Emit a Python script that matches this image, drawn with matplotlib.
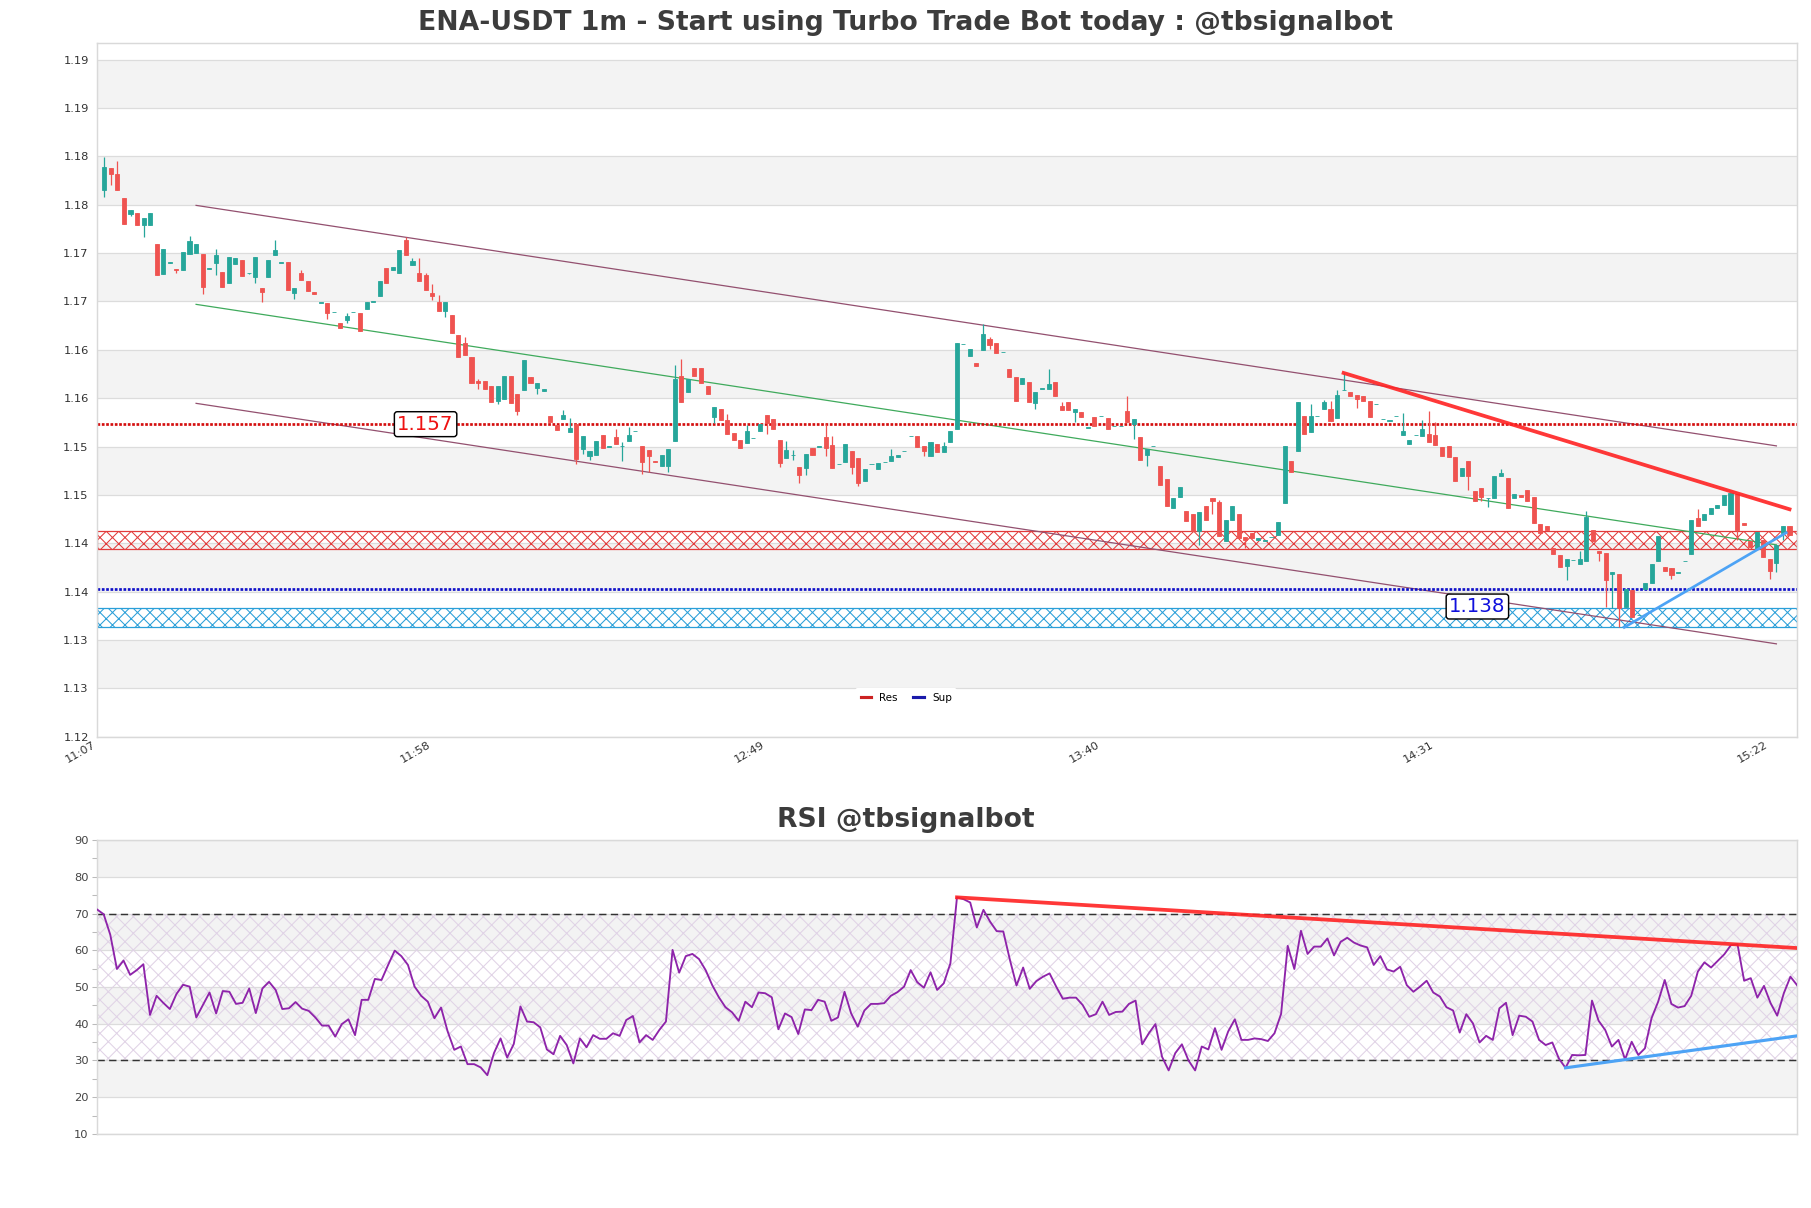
import numpy as np
import matplotlib
matplotlib.use("Agg")
import matplotlib.pyplot as plt
from matplotlib.lines import Line2D

plt.rcParams['hatch.linewidth'] = 0.5

# 1m candles (index 0 = first candle)
opens = [
    1.1840, 1.1865, 1.1858, 1.1830, 1.1812, 1.1813, 1.1799, 1.1799, 1.1777, 1.1743,
    1.1756, 1.1749, 1.1748, 1.1766, 1.1767, 1.1766, 1.1749, 1.1756, 1.1745, 1.1733,
    1.1755, 1.1759, 1.1744, 1.1740, 1.1727, 1.1739, 1.1765, 1.1756, 1.1757, 1.1721,
    1.1744, 1.1735, 1.1722, 1.1710, 1.1710, 1.1699, 1.1686, 1.1690, 1.1699, 1.1698,
    1.1703, 1.1711, 1.1718, 1.1750, 1.1747, 1.1744, 1.1782, 1.1753, 1.1744, 1.1742,
    1.1721, 1.1711, 1.1700, 1.1696, 1.1673, 1.1664, 1.1647, 1.1620, 1.1620, 1.1614,
    1.1597, 1.1599, 1.1625, 1.1605, 1.1609, 1.1624, 1.1612, 1.1608, 1.1579, 1.1569,
    1.1576, 1.1561, 1.1570, 1.1541, 1.1533, 1.1534, 1.1558, 1.1544, 1.1555, 1.1545,
    1.1551, 1.1562, 1.1545, 1.1540, 1.1528, 1.1522, 1.1522, 1.1551, 1.1626, 1.1607,
    1.1635, 1.1635, 1.1614, 1.1578, 1.1587, 1.1575, 1.1560, 1.1552, 1.1548, 1.1554,
    1.1562, 1.1581, 1.1576, 1.1552, 1.1531, 1.1534, 1.1521, 1.1519, 1.1543, 1.1544,
    1.1555, 1.1546, 1.1524, 1.1526, 1.1539, 1.1531, 1.1504, 1.1524, 1.1518, 1.1526,
    1.1528, 1.1532, 1.1539, 1.1556, 1.1556, 1.1545, 1.1533, 1.1547, 1.1538, 1.1550,
    1.1565, 1.1662, 1.1649, 1.1640, 1.1655, 1.1668, 1.1663, 1.1653, 1.1634, 1.1624,
    1.1616, 1.1619, 1.1594, 1.1611, 1.1611, 1.1619, 1.1591, 1.1595, 1.1584, 1.1584,
    1.1566, 1.1578, 1.1579, 1.1577, 1.1568, 1.1568, 1.1585, 1.1570, 1.1555, 1.1535,
    1.1545, 1.1522, 1.1507, 1.1473, 1.1486, 1.1470, 1.1467, 1.1447, 1.1476, 1.1485,
    1.1480, 1.1436, 1.1460, 1.1467, 1.1440, 1.1445, 1.1437, 1.1436, 1.1440, 1.1442,
    1.1479, 1.1528, 1.1539, 1.1579, 1.1561, 1.1579, 1.1587, 1.1588, 1.1577, 1.1609,
    1.1607, 1.1604, 1.1603, 1.1597, 1.1593, 1.1576, 1.1574, 1.1579, 1.1557, 1.1547,
    1.1557, 1.1556, 1.1559, 1.1557, 1.1544, 1.1545, 1.1532, 1.1510, 1.1528, 1.1493,
    1.1497, 1.1485, 1.1485, 1.1510, 1.1508, 1.1485, 1.1489, 1.1494, 1.1486, 1.1455,
    1.1453, 1.1427, 1.1419, 1.1407, 1.1413, 1.1409, 1.1412, 1.1448, 1.1424, 1.1422,
    1.1397, 1.1397, 1.1359, 1.1379, 1.1350, 1.1380, 1.1387, 1.1412, 1.1406, 1.1404,
    1.1399, 1.1412, 1.1421, 1.1462, 1.1460, 1.1467, 1.1473, 1.1477, 1.1467, 1.1490,
    1.1456, 1.1435, 1.1426, 1.1437, 1.1415, 1.1410, 1.1445, 1.1453,
]
highs = [
    1.1878, 1.1865, 1.1873, 1.1830, 1.1817, 1.1813, 1.1807, 1.1813, 1.1777, 1.1772,
    1.1757, 1.1749, 1.1768, 1.1787, 1.1777, 1.1766, 1.1750, 1.1772, 1.1745, 1.1762,
    1.1761, 1.1759, 1.1744, 1.1762, 1.1727, 1.1759, 1.1782, 1.1756, 1.1757, 1.1727,
    1.1748, 1.1735, 1.1722, 1.1710, 1.1710, 1.1699, 1.1686, 1.1698, 1.1699, 1.1698,
    1.1711, 1.1711, 1.1735, 1.1750, 1.1751, 1.1771, 1.1786, 1.1761, 1.1761, 1.1744,
    1.1732, 1.1719, 1.1711, 1.1696, 1.1673, 1.1670, 1.1647, 1.1622, 1.1620, 1.1614,
    1.1614, 1.1625, 1.1625, 1.1605, 1.1644, 1.1624, 1.1617, 1.1610, 1.1579, 1.1569,
    1.1586, 1.1577, 1.1570, 1.1556, 1.1539, 1.1551, 1.1558, 1.1544, 1.1564, 1.1549,
    1.1567, 1.1562, 1.1545, 1.1540, 1.1528, 1.1534, 1.1541, 1.1638, 1.1645, 1.1622,
    1.1635, 1.1635, 1.1614, 1.1590, 1.1587, 1.1582, 1.1560, 1.1552, 1.1569, 1.1554,
    1.1570, 1.1581, 1.1576, 1.1552, 1.1551, 1.1540, 1.1521, 1.1536, 1.1543, 1.1544,
    1.1570, 1.1556, 1.1524, 1.1547, 1.1539, 1.1531, 1.1518, 1.1524, 1.1525, 1.1526,
    1.1541, 1.1534, 1.1539, 1.1556, 1.1556, 1.1545, 1.1550, 1.1547, 1.1550, 1.1562,
    1.1663, 1.1662, 1.1657, 1.1640, 1.1685, 1.1670, 1.1663, 1.1653, 1.1634, 1.1624,
    1.1623, 1.1619, 1.1607, 1.1611, 1.1634, 1.1619, 1.1595, 1.1595, 1.1587, 1.1584,
    1.1566, 1.1578, 1.1579, 1.1577, 1.1568, 1.1568, 1.1602, 1.1576, 1.1555, 1.1541,
    1.1545, 1.1522, 1.1507, 1.1485, 1.1498, 1.1470, 1.1467, 1.1469, 1.1476, 1.1485,
    1.1483, 1.1460, 1.1476, 1.1467, 1.1440, 1.1445, 1.1439, 1.1436, 1.1440, 1.1457,
    1.1545, 1.1528, 1.1596, 1.1579, 1.1593, 1.1579, 1.1598, 1.1597, 1.1609, 1.1629,
    1.1607, 1.1604, 1.1603, 1.1597, 1.1593, 1.1576, 1.1574, 1.1579, 1.1583, 1.1552,
    1.1557, 1.1575, 1.1585, 1.1572, 1.1544, 1.1545, 1.1532, 1.1520, 1.1528, 1.1493,
    1.1497, 1.1485, 1.1510, 1.1518, 1.1508, 1.1490, 1.1489, 1.1494, 1.1486, 1.1455,
    1.1453, 1.1427, 1.1419, 1.1415, 1.1413, 1.1424, 1.1470, 1.1448, 1.1424, 1.1422,
    1.1400, 1.1397, 1.1380, 1.1379, 1.1350, 1.1387, 1.1409, 1.1441, 1.1406, 1.1404,
    1.1399, 1.1412, 1.1460, 1.1472, 1.1467, 1.1473, 1.1477, 1.1488, 1.1491, 1.1490,
    1.1456, 1.1435, 1.1446, 1.1437, 1.1415, 1.1431, 1.1453, 1.1453,
]
lows = [
    1.1832, 1.1845, 1.1840, 1.1800, 1.1810, 1.1799, 1.1785, 1.1799, 1.1742, 1.1743,
    1.1756, 1.1744, 1.1748, 1.1766, 1.1767, 1.1720, 1.1749, 1.1742, 1.1728, 1.1733,
    1.1755, 1.1741, 1.1743, 1.1733, 1.1711, 1.1739, 1.1765, 1.1756, 1.1725, 1.1714,
    1.1736, 1.1723, 1.1720, 1.1710, 1.1691, 1.1699, 1.1681, 1.1686, 1.1699, 1.1677,
    1.1703, 1.1711, 1.1718, 1.1733, 1.1747, 1.1744, 1.1765, 1.1753, 1.1735, 1.1724,
    1.1713, 1.1700, 1.1693, 1.1675, 1.1647, 1.1650, 1.1618, 1.1610, 1.1610, 1.1596,
    1.1593, 1.1599, 1.1594, 1.1581, 1.1609, 1.1618, 1.1605, 1.1608, 1.1572, 1.1563,
    1.1576, 1.1561, 1.1524, 1.1536, 1.1529, 1.1534, 1.1543, 1.1544, 1.1547, 1.1528,
    1.1551, 1.1562, 1.1513, 1.1515, 1.1526, 1.1522, 1.1515, 1.1551, 1.1595, 1.1607,
    1.1625, 1.1618, 1.1605, 1.1571, 1.1575, 1.1559, 1.1552, 1.1542, 1.1548, 1.1554,
    1.1562, 1.1559, 1.1564, 1.1521, 1.1531, 1.1529, 1.1502, 1.1511, 1.1535, 1.1544,
    1.1533, 1.1520, 1.1524, 1.1526, 1.1513, 1.1499, 1.1504, 1.1524, 1.1518, 1.1526,
    1.1528, 1.1532, 1.1539, 1.1556, 1.1544, 1.1533, 1.1533, 1.1538, 1.1538, 1.1550,
    1.1565, 1.1662, 1.1649, 1.1637, 1.1655, 1.1657, 1.1652, 1.1653, 1.1624, 1.1597,
    1.1616, 1.1595, 1.1588, 1.1611, 1.1611, 1.1603, 1.1586, 1.1586, 1.1572, 1.1578,
    1.1566, 1.1568, 1.1579, 1.1565, 1.1568, 1.1568, 1.1573, 1.1553, 1.1529, 1.1522,
    1.1545, 1.1500, 1.1476, 1.1473, 1.1486, 1.1459, 1.1447, 1.1431, 1.1460, 1.1466,
    1.1441, 1.1436, 1.1460, 1.1439, 1.1427, 1.1439, 1.1437, 1.1436, 1.1440, 1.1442,
    1.1479, 1.1515, 1.1539, 1.1559, 1.1561, 1.1579, 1.1587, 1.1574, 1.1577, 1.1609,
    1.1603, 1.1589, 1.1597, 1.1578, 1.1593, 1.1576, 1.1574, 1.1579, 1.1557, 1.1547,
    1.1557, 1.1556, 1.1550, 1.1546, 1.1533, 1.1532, 1.1505, 1.1510, 1.1494, 1.1481,
    1.1481, 1.1475, 1.1485, 1.1510, 1.1473, 1.1485, 1.1486, 1.1481, 1.1456, 1.1445,
    1.1448, 1.1420, 1.1406, 1.1391, 1.1413, 1.1409, 1.1412, 1.1435, 1.1412, 1.1359,
    1.1358, 1.1336, 1.1359, 1.1348, 1.1350, 1.1380, 1.1387, 1.1412, 1.1401, 1.1392,
    1.1399, 1.1412, 1.1421, 1.1453, 1.1460, 1.1467, 1.1473, 1.1477, 1.1467, 1.1437,
    1.1454, 1.1429, 1.1426, 1.1417, 1.1392, 1.1400, 1.1437, 1.1442,
]
closes = [
    1.1866, 1.1858, 1.1840, 1.1801, 1.1817, 1.1799, 1.1807, 1.1813, 1.1742, 1.1772,
    1.1757, 1.1747, 1.1768, 1.1781, 1.1777, 1.1728, 1.1749, 1.1765, 1.1728, 1.1762,
    1.1761, 1.1741, 1.1744, 1.1762, 1.1722, 1.1759, 1.1771, 1.1756, 1.1725, 1.1727,
    1.1736, 1.1723, 1.1720, 1.1710, 1.1698, 1.1699, 1.1681, 1.1695, 1.1699, 1.1677,
    1.1711, 1.1711, 1.1735, 1.1733, 1.1751, 1.1771, 1.1765, 1.1758, 1.1735, 1.1724,
    1.1718, 1.1700, 1.1711, 1.1675, 1.1647, 1.1650, 1.1618, 1.1618, 1.1610, 1.1596,
    1.1614, 1.1625, 1.1594, 1.1585, 1.1644, 1.1618, 1.1617, 1.1610, 1.1572, 1.1563,
    1.1581, 1.1566, 1.1530, 1.1556, 1.1539, 1.1551, 1.1543, 1.1544, 1.1547, 1.1545,
    1.1558, 1.1562, 1.1527, 1.1533, 1.1526, 1.1534, 1.1541, 1.1622, 1.1595, 1.1622,
    1.1625, 1.1618, 1.1605, 1.1590, 1.1575, 1.1559, 1.1552, 1.1542, 1.1562, 1.1554,
    1.1570, 1.1571, 1.1564, 1.1525, 1.1540, 1.1534, 1.1511, 1.1536, 1.1535, 1.1544,
    1.1543, 1.1520, 1.1524, 1.1547, 1.1521, 1.1502, 1.1518, 1.1524, 1.1525, 1.1526,
    1.1533, 1.1534, 1.1539, 1.1556, 1.1544, 1.1539, 1.1550, 1.1538, 1.1545, 1.1562,
    1.1663, 1.1662, 1.1657, 1.1637, 1.1674, 1.1661, 1.1652, 1.1653, 1.1624, 1.1597,
    1.1623, 1.1595, 1.1607, 1.1611, 1.1616, 1.1603, 1.1586, 1.1586, 1.1587, 1.1578,
    1.1566, 1.1568, 1.1579, 1.1565, 1.1568, 1.1568, 1.1573, 1.1576, 1.1529, 1.1541,
    1.1545, 1.1500, 1.1476, 1.1485, 1.1498, 1.1459, 1.1447, 1.1469, 1.1460, 1.1481,
    1.1441, 1.1460, 1.1476, 1.1439, 1.1437, 1.1439, 1.1439, 1.1436, 1.1440, 1.1457,
    1.1545, 1.1515, 1.1596, 1.1559, 1.1579, 1.1579, 1.1596, 1.1574, 1.1604, 1.1609,
    1.1603, 1.1599, 1.1597, 1.1578, 1.1593, 1.1576, 1.1574, 1.1579, 1.1562, 1.1552,
    1.1557, 1.1565, 1.1550, 1.1546, 1.1533, 1.1532, 1.1505, 1.1520, 1.1510, 1.1481,
    1.1486, 1.1485, 1.1510, 1.1514, 1.1473, 1.1490, 1.1486, 1.1481, 1.1456, 1.1445,
    1.1448, 1.1420, 1.1406, 1.1415, 1.1413, 1.1415, 1.1463, 1.1435, 1.1422, 1.1391,
    1.1400, 1.1358, 1.1380, 1.1348, 1.1350, 1.1387, 1.1409, 1.1441, 1.1401, 1.1396,
    1.1399, 1.1412, 1.1460, 1.1453, 1.1467, 1.1473, 1.1477, 1.1488, 1.1491, 1.1448,
    1.1454, 1.1429, 1.1446, 1.1417, 1.1401, 1.1431, 1.1453, 1.1442,
]

# RSI, one value per candle
rsi = [
    71.1, 69.8, 64.2, 54.9, 57.2, 53.3, 54.6, 56.2, 42.4, 47.6,
    45.7, 44.0, 48.1, 50.6, 50.1, 41.7, 45.1, 48.5, 42.8, 48.9,
    48.7, 45.4, 45.7, 49.6, 42.9, 49.6, 51.4, 49.2, 44.0, 44.2,
    45.9, 44.1, 43.5, 41.7, 39.5, 39.5, 36.5, 39.9, 41.2, 36.9,
    46.5, 46.5, 52.2, 51.9, 56.0, 59.9, 58.4, 56.0, 50.1, 47.6,
    46.0, 41.5, 44.4, 37.9, 32.9, 33.8, 29.0, 29.0, 28.1, 26.0,
    32.0, 36.0, 30.8, 34.5, 44.7, 40.6, 40.4, 39.0, 33.0, 31.7,
    36.7, 34.2, 29.2, 36.0, 33.6, 36.9, 35.9, 35.9, 37.4, 36.7,
    41.0, 42.1, 34.9, 36.9, 35.6, 38.3, 40.6, 60.1, 53.9, 58.4,
    59.0, 57.6, 54.6, 50.5, 47.2, 44.5, 43.1, 40.8, 46.0, 44.5,
    48.5, 48.3, 47.2, 38.5, 42.8, 41.8, 37.2, 43.9, 43.7, 46.5,
    46.0, 40.8, 41.7, 48.7, 42.8, 39.2, 43.6, 45.4, 45.4, 45.6,
    47.6, 48.6, 50.1, 54.6, 51.3, 49.8, 54.0, 49.2, 51.0, 56.4,
    74.4, 73.9, 73.0, 66.2, 71.0, 67.8, 65.2, 65.1, 57.4, 50.4,
    55.3, 49.5, 51.6, 52.8, 53.7, 50.1, 46.8, 47.1, 47.1, 45.1,
    41.9, 42.6, 46.0, 42.4, 43.2, 43.3, 45.4, 46.3, 34.4, 37.4,
    39.9, 31.0, 27.3, 32.0, 34.4, 30.0, 27.3, 33.8, 33.0, 38.8,
    32.9, 37.9, 41.2, 35.6, 35.6, 36.0, 35.8, 35.3, 37.4, 42.7,
    61.2, 54.9, 65.3, 59.0, 61.0, 61.0, 63.2, 58.6, 62.3, 63.4,
    62.1, 61.3, 60.8, 56.0, 58.4, 54.8, 54.2, 55.5, 50.5, 48.7,
    50.1, 51.7, 48.5, 47.4, 44.5, 43.6, 37.6, 42.6, 40.1, 34.9,
    36.7, 35.6, 44.2, 45.7, 36.9, 42.2, 41.9, 40.6, 35.6, 34.2,
    34.9, 30.5, 28.0, 31.5, 31.4, 31.5, 46.3, 40.8, 38.3, 33.8,
    35.6, 30.3, 35.1, 31.5, 33.3, 41.5, 46.0, 51.9, 45.4, 44.4,
    44.8, 47.6, 54.2, 56.7, 55.3, 57.1, 58.9, 61.4, 61.6, 51.7,
    52.4, 47.1, 50.3, 45.6, 42.2, 48.3, 52.8, 50.5,
]

time_labels = ['11:07', '11:58', '12:49', '13:40', '14:31', '15:22']
time_pos = [-1, 50, 101, 152, 203, 254]

price_ticks = np.linspace(1.1210, 1.1990, 15)
price_tick_labels = ['1.12', '1.13', '1.13', '1.14', '1.14', '1.15', '1.15', '1.16',
                     '1.16', '1.17', '1.17', '1.18', '1.18', '1.19', '1.19']

# levels, zones and trend lines
res_level = 1.157
sup_level = 1.138
res_zone = (1.1426, 1.1447)
sup_zone = (1.1336, 1.1358)
chan_x = [14, 255]
chan_upper = [1.1822, 1.1545]
chan_lower = [1.1594, 1.1317]
res_trend_x = [189, 257]
res_trend_y = [1.1629, 1.1472]
sup_trend_x = [231.8, 256.5]
sup_trend_y = [1.1336, 1.1445]
rsi_res_x = [130, 257]
rsi_res_y = [74.4, 60.6]
rsi_sup_x = [222, 257]
rsi_sup_y = [28.0, 36.7]

o = np.array(opens)
h = np.array(highs)
l = np.array(lows)
c = np.array(closes)
n = len(c)
x = np.arange(n)
cols = np.where(c >= o, '#26a69a', '#ef5350')

fig = plt.figure(figsize=(1811 / 150, 1208 / 150), dpi=150)
ax = fig.add_axes([0.0536, 0.3901, 0.9387, 0.5743])
ax2 = fig.add_axes([0.0536, 0.0613, 0.9387, 0.2433])

# ---- price panel ----
for k in range(1, 14, 2):
    ax.axhspan(price_ticks[k], price_ticks[k + 1], color='#f3f3f3', lw=0, zorder=0)
ax.set_yticks(price_ticks)
ax.set_yticklabels(price_tick_labels)
ax.grid(axis='y', color='#dcdcdc', lw=0.6)
ax.set_axisbelow(True)

ax.axhspan(*res_zone, facecolor='none', edgecolor='#e23b3b', hatch='xxxx', lw=0.6, zorder=1)
ax.axhspan(*sup_zone, facecolor='none', edgecolor='#2a9fd8', hatch='xxxx', lw=0.6, zorder=1)

ax.plot(chan_x, chan_upper, color='#93506f', lw=0.6, zorder=2)
ax.plot(chan_x, chan_lower, color='#93506f', lw=0.6, zorder=2)
ax.plot(chan_x, (np.array(chan_upper) + np.array(chan_lower)) / 2, color='#3faa5c', lw=0.6, zorder=2)

ax.axhline(res_level, color='#d40f0f', lw=1.3, dashes=(1.0, 0.6), zorder=2)
ax.axhline(sup_level, color='#1010c8', lw=1.3, dashes=(1.0, 0.6), zorder=2)

ax.vlines(x, l, h, colors=cols, lw=0.6, zorder=3)
body = np.maximum(np.abs(c - o), 0.00004)
ax.bar(x, body, bottom=np.minimum(o, c), width=0.62, color=cols, edgecolor=cols, lw=0.4, zorder=4)

ax.plot(res_trend_x, res_trend_y, color='#ff2222', lw=1.8, alpha=0.9, zorder=5)
ax.plot(sup_trend_x, sup_trend_y, color='#4da3f5', lw=1.3, zorder=5)

ax.text(49, res_level, '1.157', color='#ee1111', fontsize=9.5, ha='center', va='center', zorder=6,
        bbox=dict(boxstyle='round,pad=0.15', fc='white', ec='black', lw=0.7))
ax.text(209.4, 1.1360, '1.138', color='#1010dd', fontsize=9.5, ha='center', va='center', zorder=6,
        bbox=dict(boxstyle='round,pad=0.15', fc='white', ec='black', lw=0.7))

leg = ax.legend([Line2D([], [], color='#cc2222', lw=1.5), Line2D([], [], color='#1a1aaa', lw=1.5)],
                ['Res', 'Sup'], loc='lower center', bbox_to_anchor=(0.476, 0.035), ncol=2,
                fontsize=5, frameon=True, handlelength=1.0, columnspacing=1.5)
leg.get_frame().set_edgecolor('white')
leg.get_frame().set_alpha(1)

ax.set_xlim(-1.1, n + 0.15)
ax.set_ylim(1.1210, 1.2009)
ax.set_xticks(time_pos)
ax.set_xticklabels(time_labels, rotation=30, ha='right')
ax.tick_params(length=0, labelsize=5.5, labelcolor='#333333', pad=4)
ax.tick_params(axis='x', pad=1.5)
for s in ax.spines.values():
    s.set_color('#d9d9d9')
    s.set_linewidth(0.7)

# ---- RSI panel ----
for lo, hi in [(80, 90), (60, 70), (40, 50), (20, 30)]:
    ax2.axhspan(lo, hi, color='#f3f3f3', lw=0, zorder=0)
ax2.fill_between([0, n - 1], 30, 70, facecolor='none', edgecolor='#e0d3e6', hatch='xxx', lw=0, zorder=1)
ax2.set_yticks(range(10, 91, 10))
ax2.set_yticks(range(15, 90, 10), minor=True)
ax2.grid(axis='y', which='major', color='#dcdcdc', lw=0.6)
ax2.set_axisbelow(True)
ax2.axhline(70, color='#333333', lw=0.7, dashes=(5, 3), zorder=2)
ax2.axhline(30, color='#333333', lw=0.7, dashes=(5, 3), zorder=2)

ax2.plot(x, rsi, color='#8e24aa', lw=0.9, zorder=3)
ax2.plot(rsi_res_x, rsi_res_y, color='#ff2222', lw=1.8, alpha=0.9, zorder=4)
ax2.plot(rsi_sup_x, rsi_sup_y, color='#4da3f5', lw=1.5, zorder=4)

ax2.set_xlim(0, n - 1)
ax2.set_ylim(10, 90)
ax2.set_xticks([])
ax2.tick_params(axis='y', which='both', length=2.5, width=0.5, color='#bbbbbb',
                labelsize=5.5, labelcolor='#444444', pad=1.5)
for s in ax2.spines.values():
    s.set_color('#d9d9d9')
    s.set_linewidth(0.7)

fig.text(0.5, 0.981, 'ENA-USDT 1m - Start using Turbo Trade Bot today : @tbsignalbot',
         ha='center', va='center', fontsize=12.8, fontweight='bold', color='#3c3c3c')
fig.text(0.5, 0.3212, 'RSI @tbsignalbot', ha='center', va='center',
         fontsize=12.8, fontweight='bold', color='#3c3c3c')

fig.savefig('out.png', dpi=150)
